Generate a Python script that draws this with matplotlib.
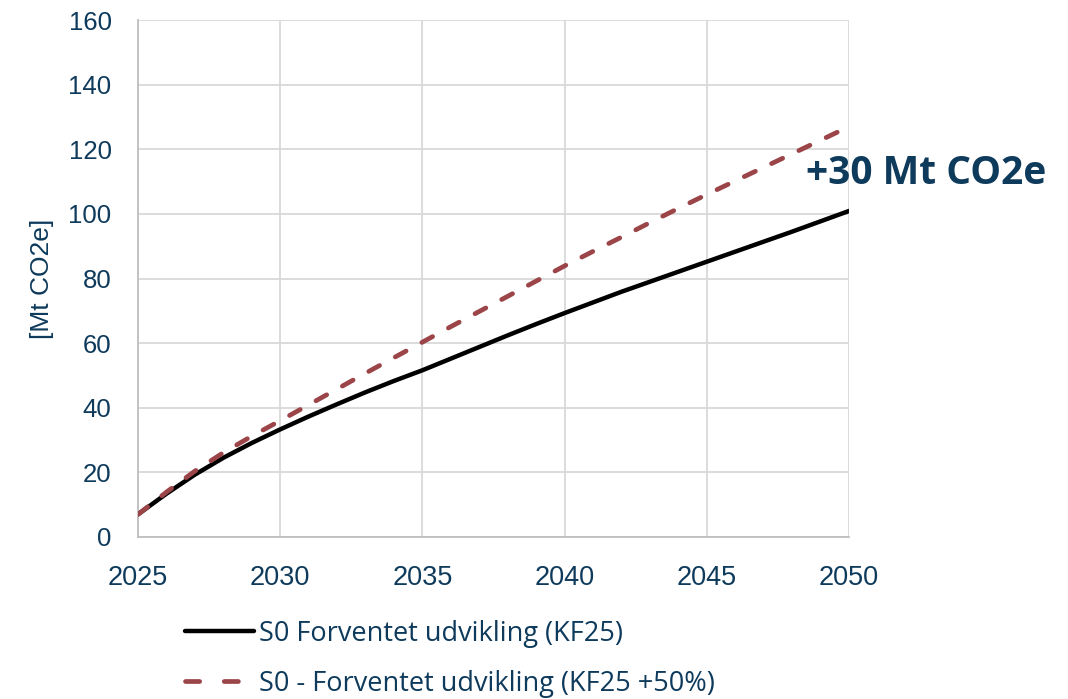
import matplotlib
matplotlib.use("Agg")
import matplotlib.pyplot as plt
from matplotlib.lines import Line2D

years = list(range(2025, 2051))
s0_kf25 = [7.0, 13.4, 19.3, 24.5, 29.1, 33.3, 37.3, 41.1, 44.8, 48.3,
           51.6, 55.2, 58.8, 62.4, 65.9, 69.3, 72.6, 75.9, 79.0, 82.1,
           85.2, 88.3, 91.4, 94.5, 97.7, 100.9]
s0_kf25_plus50 = [7.0, 13.9, 20.4, 26.1, 31.2, 36.0, 40.9, 45.8, 50.7, 55.5,
                  60.3, 65.1, 69.8, 74.5, 79.2, 83.9, 88.4, 92.8, 97.3, 101.7,
                  106.0, 110.2, 114.4, 118.6, 122.8, 127.0]
labels = ["S0 Forventet udvikling (KF25)",
          "S0 - Forventet udvikling (KF25 +50%)"]
annotation = "+30 Mt CO2e"
x_ticks = [2025, 2030, 2035, 2040, 2045, 2050]
y_ticks = [0, 20, 40, 60, 80, 100, 120, 140, 160]

navy = "#0E3A5B"
red = "#9B4549"
grid = "#D9D9D9"

plt.rcParams["font.family"] = ["Liberation Sans", "DejaVu Sans"]

fig = plt.figure(figsize=(10.68, 6.99), dpi=100)
ax = fig.add_axes([138 / 1068, 1 - 537 / 699, (849 - 138) / 1068, (537 - 20) / 699])

ax.plot(years, s0_kf25, color="black", lw=3.2, solid_capstyle="round", zorder=3)
ax.plot(years, s0_kf25_plus50, color=red, lw=3.4, dashes=(2.6, 3.8),
        dash_capstyle="round", zorder=3)

ax.set_xlim(2025, 2050)
ax.set_ylim(0, 160)
ax.set_xticks(x_ticks)
ax.set_yticks(y_ticks)
ax.grid(True, color=grid, lw=1.3)
ax.set_axisbelow(True)
for side in ("top", "right"):
    ax.spines[side].set_visible(False)
for side in ("left", "bottom"):
    ax.spines[side].set_color("#BFBFBF")
    ax.spines[side].set_linewidth(1.3)
ax.tick_params(length=0, colors=navy)
ax.tick_params(axis="y", labelsize=18.5, pad=19)
ax.tick_params(axis="x", labelsize=19.5, pad=20)
ax.set_ylabel("[Mt CO2e]", fontsize=19, color=navy)
ax.yaxis.set_label_coords(-0.118, 0.5)

ax.text(2048.5, 112.6, annotation, fontsize=28, fontweight="bold", color=navy,
        family=["Open Sans", "DejaVu Sans"], ha="left", va="center", clip_on=False)

handles = [Line2D([], [], color="black", lw=3.2, solid_capstyle="round"),
           Line2D([], [], color=red, lw=3.4, dashes=(3.0, 5.2), dash_capstyle="round")]
fig.legend(handles, labels, loc="upper left",
           bbox_to_anchor=(174 / 1068, 1 - 609 / 699), frameon=False,
           prop={"family": ["Open Sans", "DejaVu Sans"], "size": 19.5},
           labelcolor=navy, handlelength=2.55, handletextpad=0.2,
           labelspacing=0.8, borderaxespad=0)

fig.savefig("out.png", dpi=100)
